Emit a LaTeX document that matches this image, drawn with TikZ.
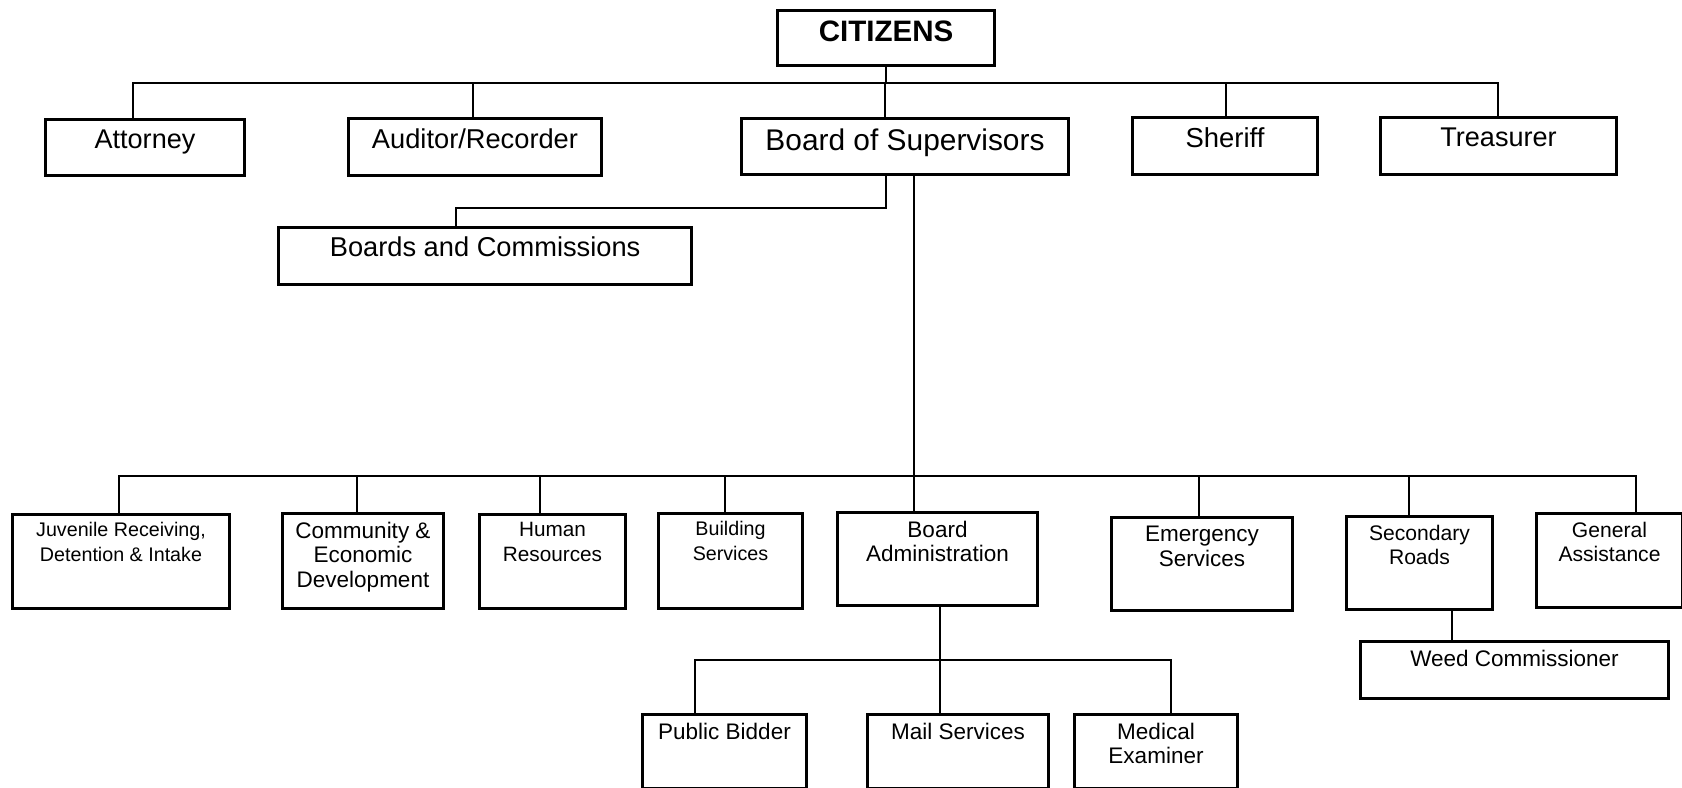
\documentclass[tikz,border=0pt]{standalone}
\usepackage{fontspec}
\setmainfont{Liberation Sans}
\tikzset{
  unit/.style={draw, line width=0.85pt, anchor=north west, inner sep=0pt},
  unitname/.style={anchor=north, inner sep=0pt, align=center},
  wire/.style={line width=0.45pt},
}
\begin{document}
\begin{tikzpicture}[x=0.01cm, y=-0.01cm]
  \useasboundingbox (0,0) rectangle (1682,788);
  %% Head of the chart
  \node[unit, minimum width=2.17cm, minimum height=0.55cm] (citizens) at (776,9) {};
  \node[unitname, font=\fontsize{8.4}{10}\selectfont\bfseries] (citizens-t)
    at ([yshift=-0.11cm]citizens.north) {CITIZENS};
  %% Elected offices: name/x/y/w/h/size/drop/text
  \foreach \n/\x/\y/\w/\h/\fs/\dx/\txt in {
    attorney/44/118/199/56/7.7/133/Attorney,
    auditor/347/117/253/57/7.75/473/{Auditor/Recorder},
    bos/740/117/327/56/8.5/885/{Board of Supervisors},
    sheriff/1131/116/185/57/7.8/1226/Sheriff,
    treasurer/1379/116/236/57/7.7/1498/Treasurer}{
    \node[unit, minimum width=\w*0.01cm, minimum height=\h*0.01cm] (\n) at (\x,\y) {};
    \node[unitname, font=\fontsize{\fs}{9}\selectfont] (\n-t)
      at ([yshift=-0.11cm]\n.north) {\txt};
    \coordinate (top-\n) at (\dx,83);
    \draw[wire] (citizens.south |- top-\n) -- (top-\n) -- (top-\n |- \n.north);
  }
  \draw[wire] (citizens.south) -- (citizens.south |- top-bos);
  %% Boards and Commissions
  \node[unit, minimum width=4.13cm, minimum height=0.57cm] (boards) at (277,226) {};
  \node[unitname, font=\fontsize{7.75}{9}\selectfont] (boards-t)
    at ([yshift=-0.1cm]boards.north) {Boards and Commissions};
  \coordinate (bc-r) at (886,208);
  \coordinate (bc-l) at (456,208);
  \draw[wire] (bc-r |- bos.south) -- (bc-r) -- (bc-l) -- (bc-l |- boards.north);
  %% Departments under the board
  \coordinate (trunk) at (914,476);
  \draw[wire] (trunk |- bos.south) -- (trunk);
  \foreach \n/\x/\y/\w/\h/\fs/\dx/\txt in {
    juvenile/11/513/217/94/5.6/119/{Juvenile Receiving,\\Detention \& Intake},
    community/281/512/161/95/6.4/357/{Community \&\\Economic\\Development},
    human/478/513/146/94/5.9/540/{Human\\Resources},
    building/657/512/144/95/5.6/725/{Building\\Services},
    boardadmin/836/511/200/93/6.4/914/{Board\\Administration},
    emergency/1110/516/181/93/6.4/1199/{Emergency\\Services},
    secondary/1345/515/146/93/6.0/1409/{Secondary\\Roads},
    general/1535/512/146/94/6.0/1636/{General\\Assistance}}{
    \node[unit, minimum width=\w*0.01cm, minimum height=\h*0.01cm] (\n) at (\x,\y) {};
    \node[unitname, font=\fontsize{\fs}{7.1}\selectfont] (\n-t)
      at ([yshift=-0.09cm]\n.north) {\txt};
    \coordinate (low-\n) at (\dx,476);
    \draw[wire] (trunk) -- (low-\n) -- (low-\n |- \n.north);
  }
  %% Third level
  \foreach \n/\x/\y/\w/\h/\txt in {
    weed/1359/640/308/57/{Weed Commissioner},
    public/641/713/164/74/{Public Bidder},
    mail/866/713/181/74/{Mail Services},
    medical/1073/713/163/74/{Medical\\Examiner}}{
    \node[unit, minimum width=\w*0.01cm, minimum height=\h*0.01cm] (\n) at (\x,\y) {};
    \node[unitname, font=\fontsize{6.4}{7.1}\selectfont] (\n-t)
      at ([yshift=-0.09cm]\n.north) {\txt};
  }
  \coordinate (adm) at (940,660);
  \coordinate (adm-l) at (695,660);
  \coordinate (adm-r) at (1171,660);
  \draw[wire] (adm |- boardadmin.south) -- (adm |- mail.north);
  \draw[wire] (adm-l |- public.north) -- (adm-l) -- (adm-r) -- (adm-r |- medical.north);
  \coordinate (sr) at (1452,600);
  \draw[wire] (sr |- secondary.south) -- (sr |- weed.north);
\end{tikzpicture}
\end{document}
